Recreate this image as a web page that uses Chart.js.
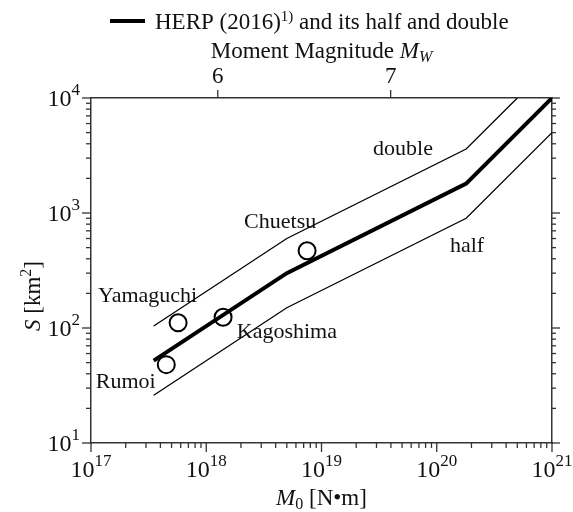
<!DOCTYPE html>
<html>
<head>
<meta charset="utf-8">
<title>S - M0 scaling</title>
<script src="https://cdn.jsdelivr.net/npm/chart.js@4/dist/chart.umd.min.js"></script>
<style>
    html, body { margin: 0; padding: 0; background: #fff; }
    #chart { display: block; }
</style>
</head>
<body>
<canvas id="chart" width="573" height="512"></canvas>
<script>
// HERP (2016) recipe and its half / double (kink points)
const HERP_M0 = [3.5e17, 5e18, 1.8e20, 1e21];
const HERP_S = [52, 300, 1800, 10000];
const HALF_M0 = [3.5e17, 5e18, 1.8e20, 1e21];
const HALF_S = [26, 150, 900, 5000];
const DOUBLE_M0 = [3.5e17, 5e18, 1.8e20, 5e20];
const DOUBLE_S = [104, 600, 3600, 10000];

// observed events
const EVENT_NAMES = ['Rumoi', 'Yamaguchi', 'Kagoshima', 'Chuetsu'];
const EVENT_M0 = [4.5e17, 5.7e17, 1.4e18, 7.5e18];
const EVENT_S = [48, 111, 124, 470];

// text labels inside the plot, anchored in data coordinates (left, baseline)
const NOTE_TEXT = ['Yamaguchi', 'Rumoi', 'Kagoshima', 'Chuetsu', 'double', 'half'];
const NOTE_M0 = [1.15e17, 1.1e17, 1.84e18, 2.13e18, 2.8e19, 1.3e20];
const NOTE_S = [168, 30, 82, 740, 3200, 460];

// tick labels (exponents of ten) and moment magnitude ticks
const X_EXPONENTS = [17, 18, 19, 20, 21];
const Y_EXPONENTS = [1, 2, 3, 4];
const MW_TICKS = [6, 7];

const SERIF = '"Liberation Serif", "Times New Roman", serif';
const AXIS_COLOR = '#333';
const TEXT_COLOR = '#111';

// Mw = (log10 M0 - 9.1) / 1.5 gives the range of the top axis
const MW_MIN = (17 - 9.1) / 1.5;
const MW_MAX = (21 - 9.1) / 1.5;

const toPoints = (xs, ys) => xs.map((x, i) => ({ x: x, y: ys[i] }));

/**
 * Draw a row of text runs (different fonts / offsets) as one label
 */
function drawRuns(ctx, runs, x, y, align) {
    let total = 0;
    runs.forEach(r => {
        ctx.font = r.font;
        r.w = ctx.measureText(r.text).width;
        total += r.w;
    });
    let cx = x;
    if (align === 'center') cx = x - total / 2;
    if (align === 'right') cx = x - total;
    ctx.textAlign = 'left';
    ctx.textBaseline = 'alphabetic';
    runs.forEach(r => {
        ctx.font = r.font;
        ctx.fillText(r.text, cx, y + (r.dy || 0));
        cx += r.w;
    });
}

function powerRuns(exp) {
    return [
        { text: '10', font: '24px ' + SERIF },
        { text: String(exp), font: '17px ' + SERIF, dy: -11 }
    ];
}

function tick(ctx, x1, y1, x2, y2) {
    ctx.beginPath();
    ctx.moveTo(x1, y1);
    ctx.lineTo(x2, y2);
    ctx.stroke();
}

// ticks, tick labels, titles, legend and notes
const decorPlugin = {
    id: 'decor',
    afterDraw(chart) {
        const { ctx, chartArea: area, scales } = chart;
        const xs = scales.x, ys = scales.y, top = scales.xTop;
        ctx.save();
        ctx.strokeStyle = AXIS_COLOR;
        ctx.lineWidth = 1.3;

        // log ticks on bottom, left and right
        for (let e = 17; e <= 21; e++) {
            for (let k = 1; k <= 9; k++) {
                const v = k * Math.pow(10, e);
                if (v > 1e21) break;
                const px = xs.getPixelForValue(v);
                tick(ctx, px, area.bottom, px, area.bottom + (k === 1 ? 9 : 5));
            }
        }
        for (let e = 1; e <= 4; e++) {
            for (let k = 1; k <= 9; k++) {
                const v = k * Math.pow(10, e);
                if (v > 1e4) break;
                const py = ys.getPixelForValue(v);
                const len = k === 1 ? 9 : 5;
                tick(ctx, area.left, py, area.left - len, py);
                tick(ctx, area.right, py, area.right + len - 1, py);
            }
        }
        MW_TICKS.forEach(m => {
            const px = top.getPixelForValue(m);
            tick(ctx, px, area.top, px, area.top - 8);
        });

        ctx.fillStyle = TEXT_COLOR;

        // tick labels
        X_EXPONENTS.forEach(e => {
            drawRuns(ctx, powerRuns(e), xs.getPixelForValue(Math.pow(10, e)), area.bottom + 34, 'center');
        });
        Y_EXPONENTS.forEach(e => {
            drawRuns(ctx, powerRuns(e), area.left - 11, ys.getPixelForValue(Math.pow(10, e)) + 8, 'right');
        });
        MW_TICKS.forEach(m => {
            drawRuns(ctx, [{ text: String(m), font: '23px ' + SERIF }], top.getPixelForValue(m), area.top - 15, 'center');
        });

        const midX = (area.left + area.right) / 2;

        // top axis title
        drawRuns(ctx, [
            { text: 'Moment Magnitude ', font: '23px ' + SERIF },
            { text: 'M', font: 'italic 23px ' + SERIF },
            { text: 'W', font: 'italic 16px ' + SERIF, dy: 4 }
        ], midX, 58, 'center');

        // bottom axis title
        drawRuns(ctx, [
            { text: 'M', font: 'italic 23px ' + SERIF },
            { text: '0', font: '16px ' + SERIF, dy: 4 },
            { text: ' [N\u2022m]', font: '23px ' + SERIF }
        ], midX, 505, 'center');

        // left axis title, rotated
        ctx.save();
        ctx.translate(40, 296);
        ctx.rotate(-Math.PI / 2);
        drawRuns(ctx, [
            { text: 'S', font: 'italic 23px ' + SERIF },
            { text: ' [km', font: '23px ' + SERIF },
            { text: '2', font: '16px ' + SERIF, dy: -9 },
            { text: ']', font: '23px ' + SERIF }
        ], 0, 0, 'center');
        ctx.restore();

        // legend
        ctx.strokeStyle = '#000';
        ctx.lineWidth = 4;
        tick(ctx, 110, 21, 145, 21);
        drawRuns(ctx, [
            { text: 'HERP (2016)', font: '23px ' + SERIF },
            { text: '1)', font: '15px ' + SERIF, dy: -8 },
            { text: ' and its half and double', font: '23px ' + SERIF }
        ], 155, 29, 'left');

        // notes in the plot
        NOTE_TEXT.forEach((t, i) => {
            drawRuns(ctx, [{ text: t, font: '22px ' + SERIF }],
                xs.getPixelForValue(NOTE_M0[i]), ys.getPixelForValue(NOTE_S[i]), 'left');
        });

        ctx.restore();
    }
};

const lineStyle = (width) => ({
    borderColor: '#000',
    borderWidth: width,
    pointRadius: 0,
    tension: 0,
    fill: false
});

const hiddenAxis = {
    grid: { display: false },
    ticks: { display: false },
    border: { display: true, color: AXIS_COLOR, width: 1.5 }
};

new Chart(document.getElementById('chart'), {
    type: 'line',
    data: {
        datasets: [
            Object.assign({ label: 'HERP (2016)', data: toPoints(HERP_M0, HERP_S) }, lineStyle(4)),
            Object.assign({ label: 'half', data: toPoints(HALF_M0, HALF_S) }, lineStyle(1.3)),
            Object.assign({ label: 'double', data: toPoints(DOUBLE_M0, DOUBLE_S) }, lineStyle(1.3)),
            {
                label: 'events',
                data: toPoints(EVENT_M0, EVENT_S),
                showLine: false,
                pointRadius: 8.5,
                pointBorderWidth: 2,
                pointBorderColor: '#000',
                pointBackgroundColor: 'rgba(0,0,0,0)'
            }
        ]
    },
    options: {
        responsive: false,
        animation: false,
        devicePixelRatio: 1,
        layout: { padding: 0 },
        plugins: {
            legend: { display: false },
            tooltip: { enabled: false }
        },
        scales: {
            x: Object.assign({
                type: 'logarithmic', position: 'bottom', min: 1e17, max: 1e21,
                afterFit: s => { s.height = 69; }
            }, hiddenAxis),
            xTop: Object.assign({
                type: 'linear', position: 'top', min: MW_MIN, max: MW_MAX,
                afterFit: s => { s.height = 98; }
            }, hiddenAxis),
            y: Object.assign({
                type: 'logarithmic', position: 'left', min: 10, max: 1e4,
                afterFit: s => { s.width = 91; }
            }, hiddenAxis),
            yRight: Object.assign({
                type: 'logarithmic', position: 'right', min: 10, max: 1e4,
                afterFit: s => { s.width = 21; }
            }, hiddenAxis)
        }
    },
    plugins: [decorPlugin]
});
</script>
</body>
</html>
